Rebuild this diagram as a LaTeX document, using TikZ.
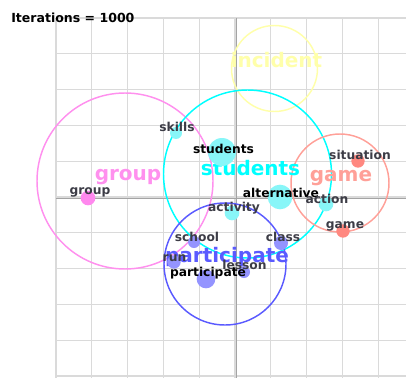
\documentclass[tikz,border=0pt]{standalone}
\usepackage{fontspec}
\setmainfont{DejaVu Sans}
\usepackage{xcolor}
\usepackage{tikz}

\definecolor{gridgray}{HTML}{DADADA}
\definecolor{axisgray}{HTML}{A4A4A4}
\definecolor{labelgray}{HTML}{3C3C46}
\definecolor{incidentcol}{HTML}{FFFFAA}
\definecolor{groupcol}{HTML}{FF90EE}
\definecolor{studentscol}{HTML}{00FFFF}
\definecolor{gamecol}{HTML}{FFA098}
\definecolor{partcol}{HTML}{5A5AFF}
\definecolor{cyandot}{HTML}{88F6F8}
\definecolor{pinkdot}{HTML}{FF88EE}
\definecolor{salmondot}{HTML}{FF8880}
\definecolor{bluedot}{HTML}{9494FF}

\begin{document}
\begin{tikzpicture}[x=0.75pt, y=-0.75pt,
  gridline/.style = {draw=gridgray, line width=0.8pt},
  axisline/.style = {draw=axisgray, line width=0.6pt},
  ring/.style = {draw=#1, line width=1.1pt},
  topic/.style = {font=\bfseries\fontsize{15}{17}\selectfont, text=#1, inner sep=0pt, anchor=base},
  word/.style = {font=\bfseries\fontsize{9.2}{10}\selectfont, text=labelgray, inner sep=0pt, anchor=base},
  dot/.style = {circle, fill=#1, inner sep=0pt}]
\useasboundingbox (0,0) rectangle (406,378);

% grid
\foreach \i in {0,...,9} \draw[gridline] (56+35.8*\i,18) -- (56+35.8*\i,378);
\foreach \j in {0,...,10} \draw[gridline] (56,18+35.8*\j) -- (406,18+35.8*\j);
\draw[axisline] (236,18) -- (236,378);
\draw[axisline] (56,198) -- (406,198);

\node[inner sep=0pt, anchor=base west, font=\bfseries\fontsize{9.4}{11}\selectfont] (iter) at (11,23) {Iterations = 1000};

% topic circles
\draw[ring=incidentcol] (274.5,68.5) circle[radius=32.25pt];
\draw[ring=groupcol] (125,181) circle[radius=66pt];
\draw[ring=studentscol] (247.5,174) circle[radius=63pt];
\draw[ring=gamecol] (340,183) circle[radius=36.75pt];
\draw[ring=partcol] (225,264) circle[radius=45.75pt];

\node[topic=incidentcol] (incident) at (276.5,68) {incident};
\node[topic=groupcol] (group) at (128,180) {group};
\node[topic=studentscol] (students) at (250.5,175) {students};
\node[topic=gamecol] (game) at (341,181) {game};
\node[topic=partcol] (participate) at (227,262) {participate};

% word dots
\node[dot=cyandot, minimum size=9pt] (skillsdot) at (176,133) {};
\node[dot=cyandot, minimum size=21pt] (studentsdot) at (222,152) {};
\node[dot=cyandot, minimum size=18.5pt] (alternativedot) at (280,197) {};
\node[dot=cyandot, minimum size=11pt] (actiondot) at (326,204) {};
\node[dot=cyandot, minimum size=11pt] (activitydot) at (232,213) {};
\node[dot=salmondot, minimum size=10pt] (situationdot) at (358,161) {};
\node[dot=salmondot, minimum size=10pt] (gamedot) at (343,231) {};
\node[dot=pinkdot, minimum size=11pt] (groupdot) at (88,198) {};
\node[dot=bluedot, minimum size=9pt] (schooldot) at (194,242) {};
\node[dot=bluedot, minimum size=10.5pt] (classdot) at (281,243) {};
\node[dot=bluedot, minimum size=10pt] (rundot) at (174,262) {};
\node[dot=bluedot, minimum size=9pt] (lessondot) at (244,272) {};
\node[dot=bluedot, minimum size=14pt] (participatedot) at (206,279) {};

% word labels
\node[word] (skills) at (177,131) {skills};
\node[word, text=black] (studentsw) at (223.5,153) {students};
\node[word, text=black] (alternative) at (281,197) {alternative};
\node[word] (action) at (327,203) {action};
\node[word] (activity) at (234,211) {activity};
\node[word] (situation) at (360,159) {situation};
\node[word] (gamew) at (345,228) {game};
\node[word] (groupw) at (90,194) {group};
\node[word] (school) at (197,241) {school};
\node[word] (class) at (283,241) {class};
\node[word] (run) at (174.5,261) {run};
\node[word] (lesson) at (244.5,269) {lesson};
\node[word, text=black] (participatew) at (208,276) {participate};

\end{tikzpicture}
\end{document}
